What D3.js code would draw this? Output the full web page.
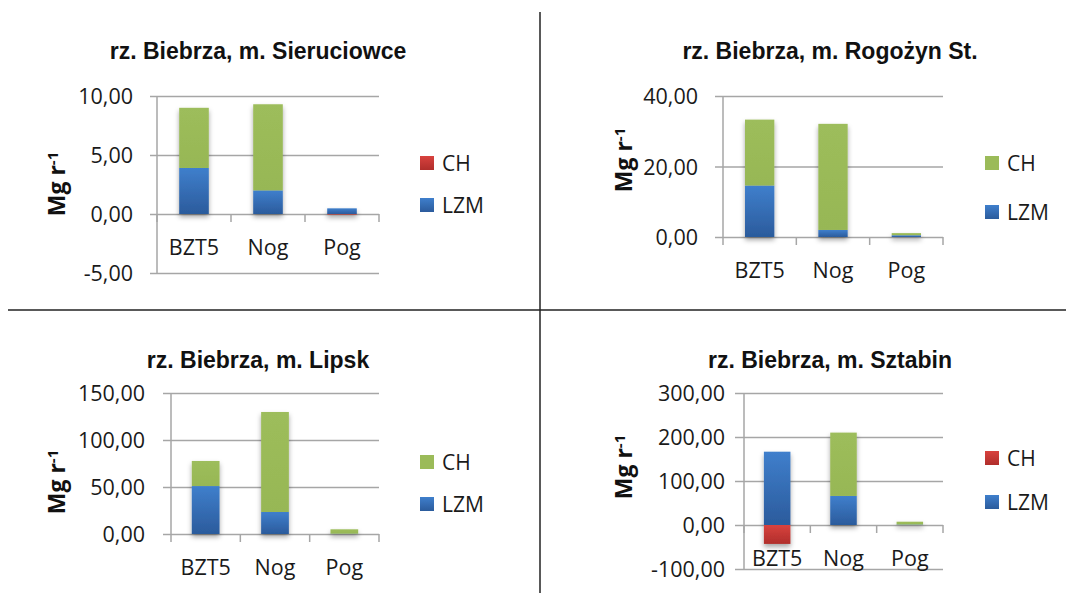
<!DOCTYPE html>
<html>
<head>
<meta charset="utf-8">
<script src="https://cdn.jsdelivr.net/npm/d3@7"></script>
<style>
  html, body { margin: 0; padding: 0; background: #fff; }
  svg { display: block; }
</style>
</head>
<body>
<svg id="chart" width="1066" height="593"></svg>
<script>
// ---------------- DATA ----------------
const categories = ["BZT5", "Nog", "Pog"];
const titles = [
  "rz. Biebrza, m. Sieruciowce",
  "rz. Biebrza, m. Rogożyn St.",
  "rz. Biebrza, m. Lipsk",
  "rz. Biebrza, m. Sztabin"
];
const seriesNames = ["CH", "LZM"];
const lzmValues = [
  [3.9, 2.0, 0.48],
  [14.6, 2.0, 0.5],
  [51.0, 23.4, 0.3],
  [166.6, 66.0, 1.0]
];
const chValues = [
  [5.1, 7.3, -0.05],
  [18.7, 30.1, 0.6],
  [26.7, 106.4, 4.7],
  [-43.0, 144.0, 6.5]
];
const yTicks = [
  [-5, 0, 5, 10],
  [0, 20, 40],
  [0, 50, 100, 150],
  [-100, 0, 100, 200, 300]
];
// legend swatch for CH (Excel shows the inverted colour where CH has negatives)
const chLegendNegative = [true, false, false, true];

// ---------------- LAYOUT ----------------
const layout = [
  { x0: 157, x1: 379, yTopPx: 96,  yBotPx: 273, titleX: 258, titleY: 59,  yTitleX: 55,  yTitleY: 184, labelRight: 133, gridStart: 150, legX: 420, legY: [156, 198] },
  { x0: 723, x1: 943, yTopPx: 96,  yBotPx: 237, titleX: 830, titleY: 59,  yTitleX: 622, yTitleY: 160, labelRight: 698, gridStart: 715, legX: 985, legY: [156, 205] },
  { x0: 171, x1: 379, yTopPx: 393, yBotPx: 534, titleX: 258, titleY: 368, yTitleX: 55,  yTitleY: 482, labelRight: 145, gridStart: 163, legX: 420, legY: [455, 497] },
  { x0: 744, x1: 943, yTopPx: 393, yBotPx: 569, titleX: 830, titleY: 368, yTitleX: 622, yTitleY: 467, labelRight: 725, gridStart: 735, legX: 985, legY: [451, 495] }
];

const colors = { green: "#9bbb59", gridGray: "#a6a6a6", text: "#1a1a1a" };
const fmt = v => d3.format(".2f")(v).replace(".", ",").replace("\u2212", "-");

const svg = d3.select("#chart");
const defs = svg.append("defs");

function grad(id, top, bottom) {
  const g = defs.append("linearGradient").attr("id", id)
    .attr("x1", 0).attr("y1", 0).attr("x2", 0).attr("y2", 1);
  g.append("stop").attr("offset", "0%").attr("stop-color", top);
  g.append("stop").attr("offset", "100%").attr("stop-color", bottom);
}
grad("gBlue", "#3f7fcc", "#2b5b9c");
grad("gRed", "#d8423e", "#b02e2b");
grad("gGreen", "#9dbd5b", "#97b755");

const shadow = defs.append("filter").attr("id", "shadow")
  .attr("x", "-30%").attr("y", "-10%").attr("width", "160%").attr("height", "130%");
shadow.append("feDropShadow").attr("dx", 0).attr("dy", 3).attr("stdDeviation", 2.5)
  .attr("flood-color", "#000").attr("flood-opacity", 0.35);

// dividers
svg.append("line").attr("x1", 540).attr("x2", 540).attr("y1", 12).attr("y2", 593)
  .attr("stroke", "#222").attr("stroke-width", 1.5);
svg.append("line").attr("x1", 8).attr("x2", 1066).attr("y1", 310).attr("y2", 310)
  .attr("stroke", "#222").attr("stroke-width", 1.5);

layout.forEach((L, p) => {
  const g = svg.append("g");
  const ticks = yTicks[p];
  const y = d3.scaleLinear().domain([d3.min(ticks), d3.max(ticks)]).range([L.yBotPx, L.yTopPx]);
  const x = d3.scaleBand().domain(categories).range([L.x0, L.x1]).paddingInner(0.6).paddingOuter(0.3);

  // title
  g.append("text").attr("x", L.titleX).attr("y", L.titleY)
    .attr("text-anchor", "middle")
    .style("font-family", "'Liberation Sans', Arial, sans-serif")
    .style("font-weight", "bold").style("font-size", "23px").attr("fill", "#111")
    .text(titles[p]);

  // gridlines + y axis via d3.axisLeft
  const yAxis = d3.axisLeft(y).tickValues(ticks).tickFormat(fmt)
    .tickSize(-(L.x1 - L.gridStart)).tickPadding(L.gridStart - L.labelRight);
  const ga = g.append("g").attr("transform", `translate(${L.gridStart},0)`).call(yAxis);
  ga.select(".domain").remove();
  ga.selectAll(".tick line").attr("stroke", colors.gridGray).attr("stroke-width", 1.5)
    .attr("x1", 0).attr("x2", L.x1 - L.gridStart);
  ga.selectAll(".tick text")
    .style("font-family", "'Open Sans', sans-serif").style("font-size", "21.5px")
    .attr("fill", colors.text).attr("x", -(L.gridStart - L.labelRight)).attr("dy", "0.36em");

  // vertical axis line
  g.append("line").attr("x1", L.x0).attr("x2", L.x0).attr("y1", y(d3.max(ticks))).attr("y2", y(d3.min(ticks)))
    .attr("stroke", colors.gridGray).attr("stroke-width", 1.5);

  // category tick marks at zero
  const step = x.step();
  const bounds = d3.range(categories.length + 1).map(i => L.x0 + i * step);
  g.selectAll(".ctick").data(bounds).join("line")
    .attr("x1", d => d).attr("x2", d => d).attr("y1", y(0)).attr("y2", y(0) + 8)
    .attr("stroke", colors.gridGray).attr("stroke-width", 1.5);

  // stacked bars
  const segs = [];
  categories.forEach((c, i) => {
    const l = lzmValues[p][i], h = chValues[p][i];
    let pos = 0, neg = 0;
    [[l, "LZM"], [h, "CH"]].forEach(([v, s]) => {
      let a, b;
      if (v >= 0) { a = pos; b = pos + v; pos = b; } else { a = neg; b = neg + v; neg = b; }
      segs.push({ cat: c, series: s, v, a, b });
    });
  });
  const bars = g.append("g").attr("filter", "url(#shadow)");
  bars.selectAll("rect").data(segs).join("rect")
    .attr("x", d => x(d.cat))
    .attr("width", x.bandwidth())
    .attr("y", d => Math.min(y(d.a), y(d.b)))
    .attr("height", d => Math.abs(y(d.a) - y(d.b)))
    .attr("fill", d => d.series === "LZM" ? "url(#gBlue)" : (d.v < 0 ? "url(#gRed)" : "url(#gGreen)"));

  // category labels
  g.selectAll(".clab").data(categories).join("text")
    .attr("x", d => x(d) + x.bandwidth() / 2).attr("y", y(0) + 41)
    .attr("text-anchor", "middle")
    .style("font-family", "'Open Sans', sans-serif").style("font-size", "21.5px")
    .attr("fill", colors.text).text(d => d);

  // y title
  const yt = g.append("text")
    .attr("transform", `translate(${L.yTitleX + 2},${L.yTitleY}) rotate(-90)`)
    .attr("text-anchor", "middle").attr("dy", "0.35em")
    .style("font-family", "'Open Sans', sans-serif").style("font-weight", "bold")
    .style("font-size", "23px").attr("fill", "#111");
  yt.append("tspan").text("Mg r");
  yt.append("tspan").attr("dy", "-0.5em").style("font-size", "15px").text("-1");

  // legend
  seriesNames.forEach((s, k) => {
    const fill = s === "LZM" ? "url(#gBlue)" : (chLegendNegative[p] ? "url(#gRed)" : colors.green);
    g.append("rect").attr("x", L.legX).attr("y", L.legY[k]).attr("width", 14).attr("height", 14).attr("fill", fill);
    g.append("text").attr("x", L.legX + 22).attr("y", L.legY[k] + 7).attr("dy", "0.36em")
      .style("font-family", "'Open Sans', sans-serif").style("font-size", "21px")
      .attr("fill", colors.text).text(s);
  });
});
</script>
</body>
</html>
